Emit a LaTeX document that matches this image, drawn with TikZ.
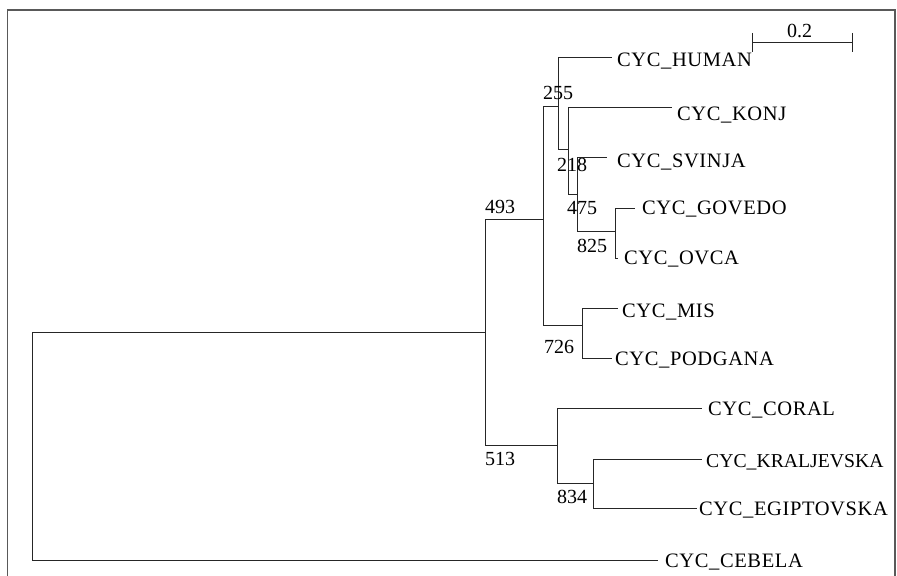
\documentclass[tikz,border=0pt]{standalone}
\usepackage{fontspec}
\setmainfont{Liberation Serif}
\newfontfamily\leaffont[LetterSpace=3]{Liberation Serif}
\newfontfamily\leaffontnarrow{Liberation Serif}
\begin{document}
\begin{tikzpicture}[x=1bp,y=-1bp,
  branch/.style={draw=black!85, line width=1bp},
  leaf/.style={anchor=base west, inner sep=0pt, font=\leaffont\fontsize{20.5bp}{21bp}\selectfont},
  leafnarrow/.style={anchor=base west, inner sep=0pt, font=\leaffontnarrow\fontsize{19.7bp}{21bp}\selectfont},
  boot/.style={anchor=base west, inner sep=0pt, font=\fontsize{20bp}{21bp}\selectfont},
  frameline/.style={draw=black!65, line width=1.5bp}]
\useasboundingbox (0,0) rectangle (897,576);
% frame
\coordinate (fbl) at (7.5,576);
\coordinate (ftl) at (7.5,10);
\coordinate (ftr) at (895,10);
\coordinate (fbr) at (895,576);
\draw[frameline] (fbl) -- (ftl) -- (ftr) -- (fbr);
% internal nodes
\coordinate (root) at (32,446);
\coordinate (n1) at (485,332);
\coordinate (nA) at (543,220);
\coordinate (nB) at (557,445);
\coordinate (n255) at (558,107);
\coordinate (n218) at (568,150);
\coordinate (n475) at (577.5,195);
\coordinate (n825) at (615,232);
\coordinate (n726) at (582,325);
\coordinate (n834) at (593,483);
% leaf ends
\coordinate (eHUMAN) at (612,58);
\coordinate (eKONJ) at (672,108);
\coordinate (eSVINJA) at (607,158);
\coordinate (eGOVEDO) at (635,209);
\coordinate (eOVCA) at (618,258);
\coordinate (eMIS) at (618,308);
\coordinate (ePODGANA) at (612,358);
\coordinate (eCORAL) at (702,408);
\coordinate (eKRAL) at (702,459);
\coordinate (eEGIP) at (697,508);
\coordinate (eCEBELA) at (658,560);
% branches
\draw[branch] (root) |- (n1);
\draw[branch] (root) |- (eCEBELA);
\draw[branch] (n1) |- (nA);
\draw[branch] (n1) |- (nB);
\draw[branch] (nA) |- (n255);
\draw[branch] (nA) |- (n726);
\draw[branch] (n255) |- (eHUMAN);
\draw[branch] (n255) |- (n218);
\draw[branch] (n218) |- (eKONJ);
\draw[branch] (n218) |- (n475);
\draw[branch] (n475) |- (eSVINJA);
\draw[branch] (n475) |- (n825);
\draw[branch] (n825) |- (eGOVEDO);
\draw[branch] (n825) |- (eOVCA);
\draw[branch] (n726) |- (eMIS);
\draw[branch] (n726) |- (ePODGANA);
\draw[branch] (nB) |- (eCORAL);
\draw[branch] (nB) |- (n834);
\draw[branch] (n834) |- (eKRAL);
\draw[branch] (n834) |- (eEGIP);
% leaf labels
\node[leaf] (tHUMAN) at (617,67) {CYC\_HUMAN};
\node[leaf] (tKONJ) at (677,121) {CYC\_KONJ};
\node[leaf] (tSVINJA) at (617,168) {CYC\_SVINJA};
\node[leaf] (tGOVEDO) at (642,215) {CYC\_GOVEDO};
\node[leaf] (tOVCA) at (624,265) {CYC\_OVCA};
\node[leaf] (tMIS) at (622,317) {CYC\_MIS};
\node[leaf] (tPODGANA) at (615,365) {CYC\_PODGANA};
\node[leaf] (tCORAL) at (708,415) {CYC\_CORAL};
\node[leafnarrow] (tKRAL) at (706,467) {CYC\_KRALJEVSKA};
\node[leaf] (tEGIP) at (699,515) {CYC\_EGIPTOVSKA};
\node[leaf] (tCEBELA) at (665,567) {CYC\_CEBELA};
% bootstrap values
\node[boot] (b255) at (543,100) {255};
\node[boot] (b218) at (557,172) {218};
\node[boot] (b475) at (567,215) {475};
\node[boot] (b825) at (577,253) {825};
\node[boot] (b493) at (485,214) {493};
\node[boot] (b726) at (544,353) {726};
\node[boot] (b513) at (485,465) {513};
\node[boot] (b834) at (557,503) {834};
% scale bar
\coordinate (sbL) at (752,43);
\coordinate (sbR) at (852,43);
\coordinate (sbLt) at (752,33);
\coordinate (sbLb) at (752,52);
\coordinate (sbRt) at (852,33);
\coordinate (sbRb) at (852,52);
\draw[branch] (sbL) -- (sbR);
\draw[branch] (sbLt) -- (sbLb);
\draw[branch] (sbRt) -- (sbRb);
\node[boot] (sblabel) at (787,38) {0.2};
\end{tikzpicture}
\end{document}
